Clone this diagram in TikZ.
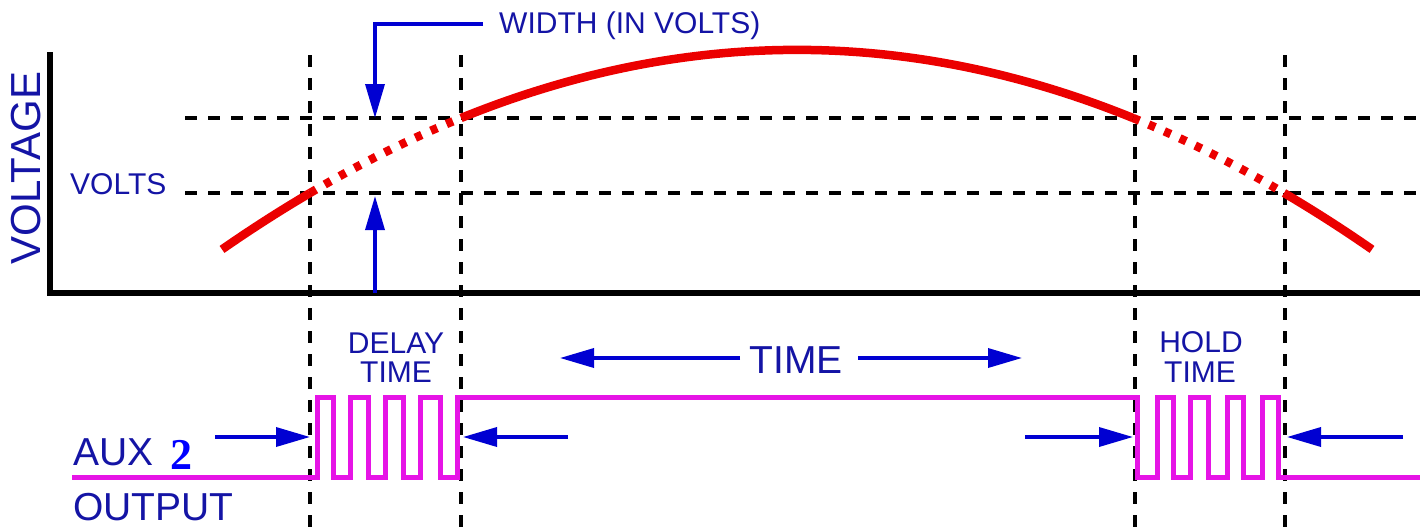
\documentclass[tikz,border=0pt]{standalone}
\usepackage{fontspec}
\setmainfont{Liberation Sans}
\newfontfamily\serifbold{Liberation Serif}
\usetikzlibrary{arrows.meta}
\definecolor{txtblue}{RGB}{20,20,165}
\definecolor{arrblue}{RGB}{0,0,210}
\definecolor{purblue}{RGB}{0,0,255}
\definecolor{curvered}{RGB}{235,0,0}
\definecolor{wavemag}{RGB}{230,20,230}
\tikzset{
  axisline/.style={line width=6.5pt, black},
  gridline/.style={line width=4.5pt, black, dash pattern=on 12pt off 11pt},
  curveline/.style={line width=8.5pt, curvered},
  curvedot/.style={curveline, dash pattern=on 7pt off 10pt},
  waveline/.style={line width=5pt, wavemag, line join=miter},
  bluearrow/.style={line width=3.5pt, arrblue, -{Triangle[length=34pt,width=19pt]}},
  lbl/.style={txtblue, inner sep=0pt},
  small/.style={lbl, font=\fontsize{30}{36}\selectfont},
  big/.style={lbl, font=\fontsize{39}{46}\selectfont},
}
\begin{document}
\begin{tikzpicture}[x=1pt,y=-1pt]
\useasboundingbox (0,0) rectangle (1425,531);
% grid
\coordinate (h1a) at (185,118); \coordinate (h1b) at (1420,118);
\coordinate (h2a) at (185,193); \coordinate (h2b) at (1420,193);
\draw[gridline] (h1a) -- (h1b);
\draw[gridline] (h2a) -- (h2b);
\foreach \xx/\nm in {310/va,461/vb,1135/vc,1285/vd}{
  \coordinate (\nm top) at (\xx,55);
  \coordinate (\nm bot) at (\xx,531);
  \draw[gridline] (\nm top) -- (\nm bot);
}
% axes
\coordinate (ytop) at (50,52);
\coordinate (orig) at (50,293);
\coordinate (xend) at (1420,293);
\draw[axisline] (ytop) -- (orig) -- (xend);
% curve
\draw[curveline] plot[domain=222:310,samples=25] (\x,{6.035*((\x-797)/100)^2+49.87});
\draw[curvedot] plot[domain=310:461,samples=25] (\x,{6.035*((\x-797)/100)^2+49.87});
\draw[curveline] plot[domain=461:1133,samples=90] (\x,{6.035*((\x-797)/100)^2+49.87});
\draw[curvedot] plot[domain=1133:1284,samples=25] (\x,{6.035*((\x-797)/100)^2+49.87});
\draw[curveline] plot[domain=1284:1372,samples=25] (\x,{6.035*((\x-797)/100)^2+49.87});
% labels top
\node[lbl, rotate=90, anchor=base, font=\fontsize{42}{50}\selectfont] (voltage) at (40,168) {VOLTAGE};
\node[small, anchor=base west] (volts) at (70,194) {VOLTS};
\node[small, anchor=base west] (width) at (499,33) {WIDTH (IN VOLTS)};
\coordinate (wstart) at (483,24);
\coordinate (wcorner) at (375,24);
\coordinate (wtip) at (375,118);
\draw[bluearrow] (wstart) -- (wcorner) -- (wtip);
\coordinate (ustart) at (375,293);
\coordinate (utip) at (375,196);
\draw[bluearrow] (ustart) -- (utip);
% TIME
\node[big, anchor=base] (time) at (796,373) {TIME};
\coordinate (tl1) at (740,358); \coordinate (tl2) at (560,358);
\coordinate (tr1) at (858,358); \coordinate (tr2) at (1022,358);
\draw[bluearrow] (tl1) -- (tl2);
\draw[bluearrow] (tr1) -- (tr2);
% delay / hold
\node[small, anchor=base] (delay) at (396,353) {DELAY};
\node[small, anchor=base] (dtime) at (396,382) {TIME};
\node[small, anchor=base] (hold) at (1201,352) {HOLD};
\node[small, anchor=base] (htime) at (1200,382) {TIME};
% waveform
\draw[waveline] (72,477) -- (317,477) -- (317,397) -- (333,397) -- (333,477) -- (350,477) -- (350,397) -- (368,397) -- (368,477) -- (385,477) -- (385,397) -- (403,397) -- (403,477) -- (420,477) -- (420,397) -- (440,397) -- (440,477) -- (457,477) -- (457,397) -- (1137,397) -- (1137,477) -- (1157,477) -- (1157,397) -- (1173,397) -- (1173,477) -- (1190,477) -- (1190,397) -- (1208,397) -- (1208,477) -- (1227,477) -- (1227,397) -- (1243,397) -- (1243,477) -- (1262,477) -- (1262,397) -- (1278,397) -- (1278,477) -- (1420,477);
% edge arrows
\coordinate (a1s) at (215,437); \coordinate (a1t) at (310,437);
\coordinate (a2s) at (568,437); \coordinate (a2t) at (463,437);
\coordinate (a3s) at (1025,437); \coordinate (a3t) at (1133,437);
\coordinate (a4s) at (1403,437); \coordinate (a4t) at (1287,437);
\draw[bluearrow] (a1s) -- (a1t);
\draw[bluearrow] (a2s) -- (a2t);
\draw[bluearrow] (a3s) -- (a3t);
\draw[bluearrow] (a4s) -- (a4t);
% aux output
\node[big, anchor=base west] (aux) at (73,465) {AUX};
\node[big, anchor=base west] (output) at (73,520) {OUTPUT};
\node[anchor=base west, fill=white, inner sep=1pt, text=purblue, font=\serifbold\bfseries\fontsize{44}{50}\selectfont] (two) at (169,469) {2};
\end{tikzpicture}
\end{document}
